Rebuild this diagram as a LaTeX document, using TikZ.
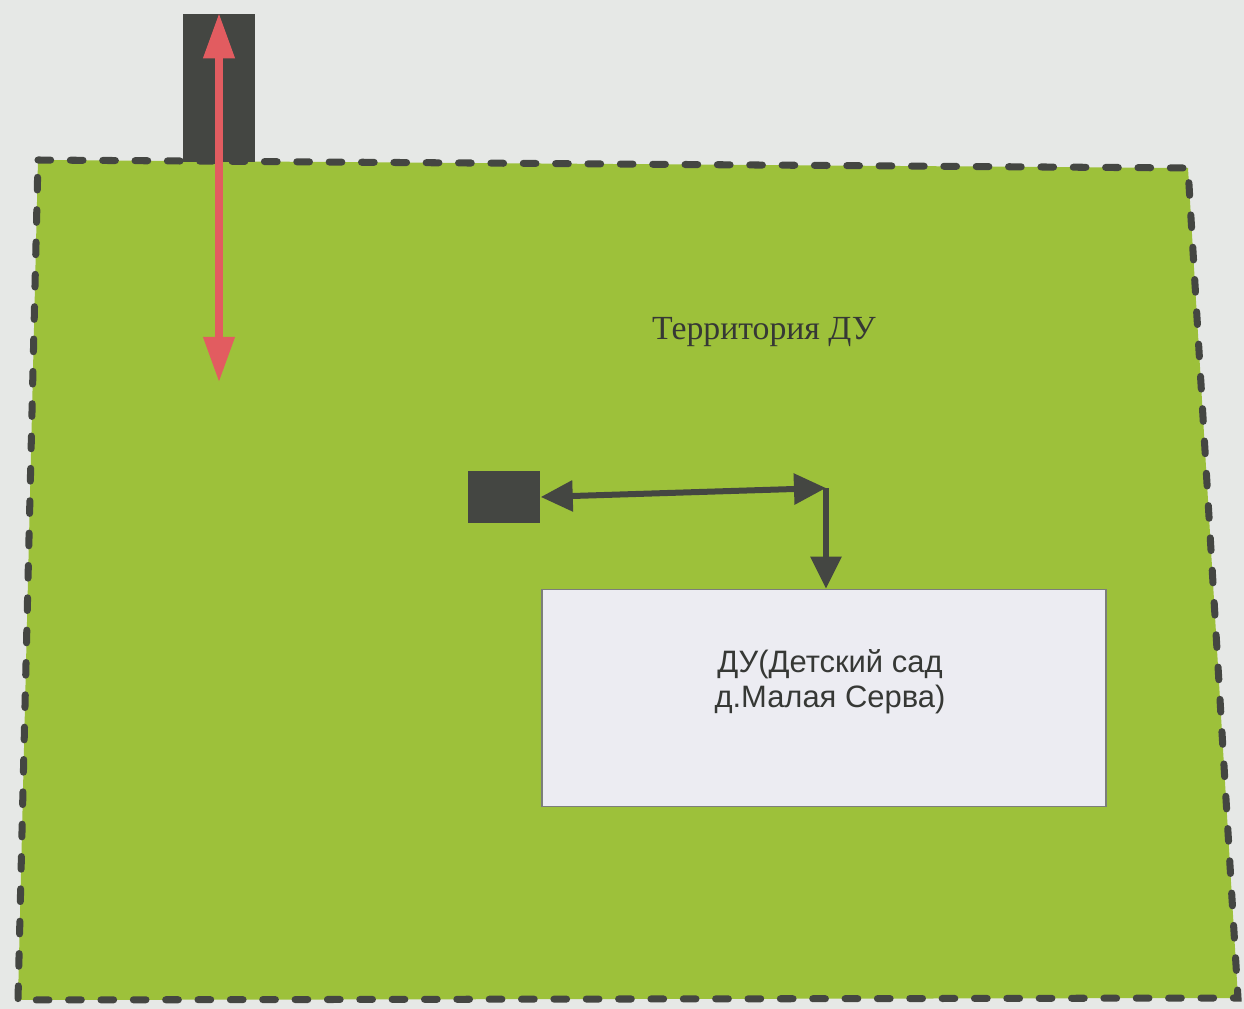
\documentclass[tikz,border=0pt]{standalone}
\usepackage{fontspec}
\setmainfont{Liberation Serif}
\setsansfont{Liberation Sans}
\usetikzlibrary{arrows.meta}

\definecolor{paper}{RGB}{230,232,230}
\definecolor{grass}{RGB}{157,193,58}
\definecolor{ink}{RGB}{68,70,66}
\definecolor{roadred}{RGB}{226,92,96}
\definecolor{housefill}{RGB}{236,236,242}

\begin{document}
\begin{tikzpicture}[x=0.01cm,y=-0.01cm,
  border/.style={draw=ink,line width=2pt,line cap=round,dash pattern=on 3.6pt off 5.6pt},
  darkbox/.style={draw=none,fill=ink,inner sep=0pt},
  house/.style={draw=ink!70,fill=housefill,line width=0.4pt,minimum width=5.64cm,minimum height=2.17cm},
  houselabel/.style={align=center,font=\sffamily\fontsize{8.8}{10}\selectfont,text=ink!80!black},
  road/.style={draw=roadred,line width=0.07cm,{Triangle[length=0.45cm,width=0.3cm]}-{Triangle[length=0.45cm,width=0.3cm]}},
  walk/.style={draw=ink,line width=0.06cm}]

% Draw the background and the territory
\useasboundingbox[fill=paper] (0,0) rectangle (1244,1009);
\filldraw[fill=grass,border] (38,160) -- (1188,168) -- (1238,998) -- (18,1000) -- cycle;

% Draw the entrance and the objects
\node[darkbox,minimum width=0.72cm,minimum height=1.48cm] (gate) at (219,88) {};
\node[darkbox,minimum width=0.72cm,minimum height=0.52cm] (shed) at (504,497) {};
\node[house] (kindergarten) at (824,698) {};
\node[houselabel] (kglabel) at (830,682) {ДУ(Детский сад\\д.Малая Серва)};
\node[font=\fontsize{9.6}{11}\selectfont,text=ink!80!black] (territory) at (764,332) {Территория ДУ};

% Draw the paths
\coordinate (entry) at (219,382);
\coordinate (corner) at (826,488);
\draw[road] (gate.north) -- (entry);
\draw[walk,{Triangle[length=0.32cm,width=0.3cm]}-{Triangle[length=0.32cm,width=0.3cm]}] (shed.east) -- (corner);
\draw[walk,-{Triangle[length=0.32cm,width=0.3cm]}] (corner) -- (corner |- kindergarten.north);

\end{tikzpicture}
\end{document}
